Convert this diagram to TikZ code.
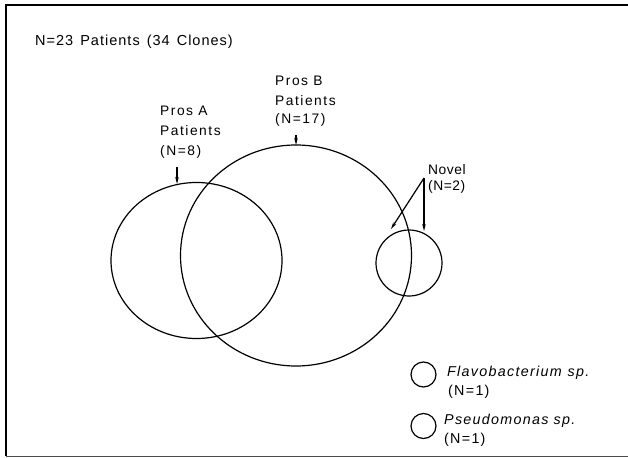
\documentclass[tikz,border=0pt]{standalone}
\usepackage{fontspec}
\setmainfont{Liberation Sans}
\newfontfamily\ttlfont{Liberation Sans}[LetterSpace=7]
\newfontfamily\lblfont{Liberation Sans}[LetterSpace=11]
\newfontfamily\novfont{Liberation Sans}[LetterSpace=4]
\newfontfamily\legfont{Liberation Sans}[LetterSpace=9]
\usetikzlibrary{arrows.meta,shapes.geometric}
\tikzset{
  ring/.style={draw, ellipse, line width=1.2pt, inner sep=0pt},
  ttl/.style={anchor=base west, inner sep=0pt, font=\ttlfont\fontsize{14.5}{16}\selectfont},
  lbl/.style={anchor=base west, inner sep=0pt, font=\lblfont\fontsize{13.8}{15}\selectfont},
  nov/.style={anchor=base west, inner sep=0pt, font=\novfont\fontsize{13.8}{15}\selectfont},
  leg/.style={anchor=base west, inner sep=0pt, font=\legfont\fontsize{14.3}{15}\selectfont},
  pointer/.style={line width=1.2pt, -{Stealth[length=7pt,width=3.5pt]}},
  frame/.style={line width=1.5pt},
}
\begin{document}
\begin{tikzpicture}[x=1pt,y=-1pt]
\useasboundingbox (0,0) rectangle (628,457);
% frame
\coordinate (tr) at (628,5);
\coordinate (tl) at (6,5);
\coordinate (bl) at (6,456);
\coordinate (br) at (628,456);
\draw[frame] (tr) -- (tl) -- (bl);
\draw[line width=1pt, black!70] (bl) -- (br);
% title
\node[ttl] (title) at (35,45.5) {N=23\hspace{7pt}Patients\hspace{7pt}(34\hspace{7pt}Clones)};
% circles
\node[ring, minimum width=171pt, minimum height=156pt] (A) at (196.5,260.5) {};
\node[ring, minimum width=231pt, minimum height=221pt] (B) at (296,255.5) {};
\node[ring, circle, minimum size=66pt] (N) at (409,263) {};
\node[ring, circle, minimum size=25pt] (F) at (423.5,374.5) {};
\node[ring, circle, minimum size=25pt] (P) at (423.5,426) {};
% Pros A label
\node[lbl] (a1) at (160,116) {Pros A};
\node[lbl] (a2) at (160,136) {Patients};
\node[lbl] (a3) at (160,155) {(N=8)};
% Pros B label
\node[lbl] (b1) at (275,86) {Pros B};
\node[lbl] (b2) at (275,106) {Patients};
\node[lbl] (b3) at (275,124) {(N=17)};
% Novel label
\node[nov] (n1) at (428,175) {Novel};
\node[nov] (n2) at (428,190) {(N=2)};
% legend
\node[leg] (f1) at (447,376) {\itshape Flavobacterium\hspace{6pt}sp.};
\node[leg] (f2) at (448,395) {(N=1)};
\node[leg] (p1) at (444,424) {\itshape Pseudomonas sp.};
\node[leg] (p2) at (444,443) {(N=1)};
% arrows
\coordinate (aS) at (177,167);
\coordinate (aE) at (177,184);
\coordinate (bS) at (296,135);
\coordinate (bE) at (296,145);
\coordinate (nS) at (424,178);
\coordinate (nE1) at (424,231);
\coordinate (nE2) at (391,229);
\draw[pointer] (aS) -- (aE);
\draw[pointer] (bS) -- (bE);
\draw[pointer] (nS) -- (nE1);
\draw[pointer] (nS) -- (nE2);
\end{tikzpicture}
\end{document}
